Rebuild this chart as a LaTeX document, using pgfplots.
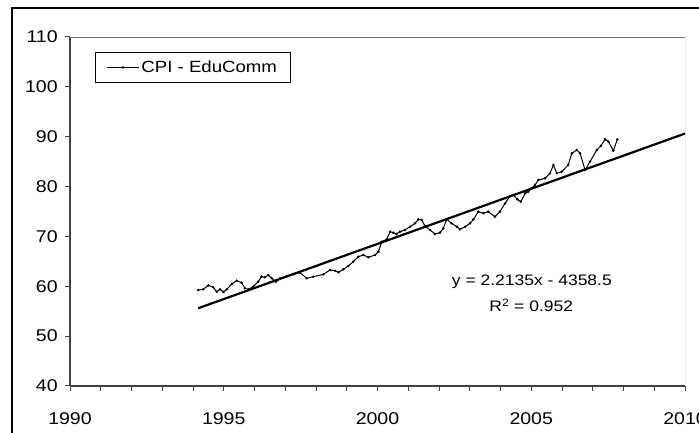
\documentclass[border=0pt]{standalone}
\usepackage{fontspec}
\setmainfont{Liberation Sans}[FakeStretch=1.15]
\usepackage{pgfplots}
\pgfplotsset{compat=1.18}

\begin{document}
\begin{tikzpicture}
\fontsize{15.2}{18}\selectfont
\begin{axis}[
    at={(70pt,47pt)}, anchor=south west,
    scale only axis, width=615pt, height=349pt,
    xmin=1990, xmax=2010, ymin=40, ymax=110,
    xtick={1990,1995,...,2010}, minor x tick num=4,
    ytick={40,50,...,110},
    axis x line*=bottom, axis y line*=left,
    axis line style={line width=1.3pt, black!75},
    tick style={line width=1pt, black!75},
    tick align=outside,
    major tick length=5pt, minor tick length=5pt,
    /pgf/number format/assume math mode=true,
    /pgf/number format/1000 sep={},
    every tick label/.append style={font=\fontsize{17}{20}\selectfont},
    xticklabel style={yshift=-16pt},
    yticklabel style={xshift=-2pt},
    legend style={at={(axis description cs:0.0407,0.957)}, anchor=north west,
        draw=black, line width=0.8pt, inner xsep=11pt, inner ysep=6pt,
        font=\fontsize{16.2}{19}\selectfont},
    legend cell align=left,
    legend image code/.code={\draw[#1, mark repeat=2, mark phase=2]
        plot coordinates {(0pt,0pt) (16pt,0pt) (32pt,0pt)};},
    clip=true,
]
\draw[black!55, line width=0.9pt] (rel axis cs:0,1) -- (rel axis cs:1,1) -- (rel axis cs:1,0);

% CPI - EduComm (monthly series)
\addplot[black, line width=1pt, mark=*, mark size=0.7pt] coordinates {
(1994.17,59.25) (1994.33,59.39) (1994.50,60.20) (1994.66,59.80) (1994.77,58.91)
(1994.88,59.39) (1994.99,58.85) (1995.10,59.39) (1995.26,60.46) (1995.42,61.12)
(1995.58,60.72) (1995.69,59.59) (1995.80,59.39) (1995.96,59.92) (1996.12,60.92)
(1996.23,61.92) (1996.34,61.80) (1996.45,62.26) (1996.56,61.60) (1996.70,60.92)
(1996.83,61.60) (1997.05,62.06) (1997.26,62.46) (1997.48,62.72) (1997.70,61.60)
(1997.91,61.92) (1998.24,62.40) (1998.46,63.27) (1998.62,63.12) (1998.73,62.80)
(1998.89,63.41) (1999.05,64.07) (1999.21,64.93) (1999.38,65.93) (1999.54,66.27)
(1999.70,65.81) (1999.92,66.27) (2000.03,66.94) (2000.14,68.94) (2000.30,69.42)
(2000.41,70.95) (2000.51,70.75) (2000.62,70.49) (2000.73,70.95) (2000.89,71.29)
(2001.06,71.95) (2001.22,72.63) (2001.33,73.43) (2001.44,73.29) (2001.54,72.09)
(2001.71,71.29) (2001.87,70.49) (2002.03,70.75) (2002.14,71.63) (2002.25,73.43)
(2002.41,72.63) (2002.58,71.95) (2002.68,71.43) (2002.85,71.95) (2003.01,72.63)
(2003.12,73.43) (2003.28,74.96) (2003.44,74.64) (2003.60,74.96) (2003.82,73.96)
(2003.98,74.96) (2004.15,76.64) (2004.31,78.11) (2004.42,78.31) (2004.55,77.45)
(2004.66,76.96) (2004.80,78.65) (2004.90,78.97) (2005.01,79.65) (2005.12,80.31)
(2005.23,81.32) (2005.45,81.66) (2005.61,82.66) (2005.72,84.32) (2005.83,82.66)
(2005.99,82.98) (2006.20,84.32) (2006.32,86.67) (2006.48,87.33) (2006.59,86.67)
(2006.75,83.32) (2006.91,84.99) (2007.13,87.33) (2007.26,88.13) (2007.40,89.48)
(2007.51,89.00) (2007.67,87.19) (2007.80,89.48)
};
\addlegendentry{CPI - EduComm}

% linear trend line, y = 2.2135x - 4358.5
\addplot[black, line width=2.2pt, forget plot] coordinates {(1994.17,55.60) (2010,90.63)};

\node[font=\fontsize{15.2}{18}\selectfont] at (axis cs:2005.02,60.86) {y = 2.2135x - 4358.5};
\node[font=\fontsize{15.2}{18}\selectfont] at (axis cs:2005.0,56.2) {R\textsuperscript{2} = 0.952};
\end{axis}
\draw[black, line width=1.2pt] (12pt,-20pt) rectangle (720pt,425pt);
\pgfresetboundingbox
\useasboundingbox (0pt,0pt) rectangle (699pt,433pt);
\end{tikzpicture}
\end{document}
